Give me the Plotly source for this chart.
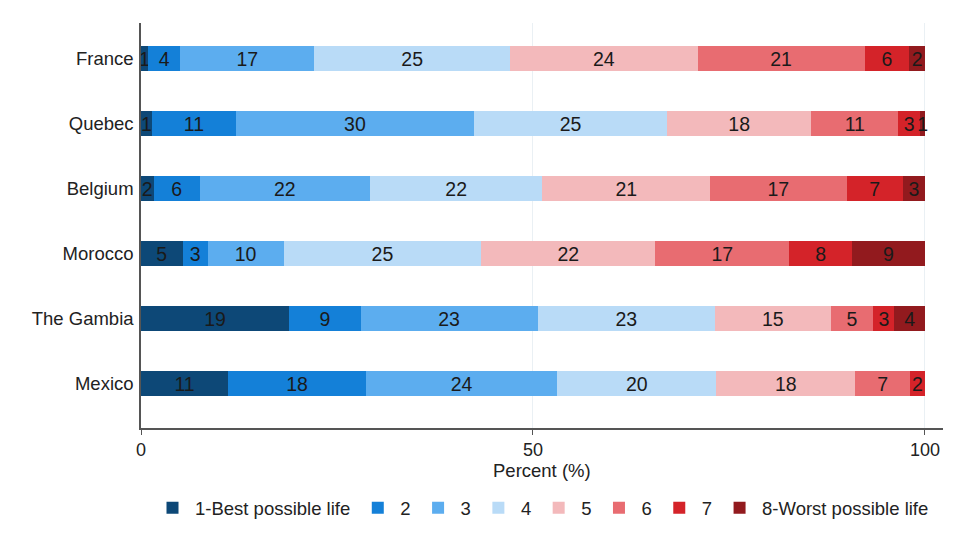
import plotly.graph_objects as go

countries = ["France", "Quebec", "Belgium", "Morocco", "The Gambia", "Mexico"]
levels = ["1-Best possible life", "2", "3", "4", "5", "6", "7", "8-Worst possible life"]

lvl1 = [0.9, 1.4, 1.6, 5.3, 18.9, 11.1]
lvl2 = [4.1, 10.7, 5.9, 3.2, 9.1, 17.6]
lvl3 = [17.1, 30.4, 21.7, 9.7, 22.6, 24.4]
lvl4 = [25.0, 24.6, 22.0, 25.2, 22.6, 20.3]
lvl5 = [23.9, 18.4, 21.4, 22.2, 14.8, 17.7]
lvl6 = [21.3, 11.1, 17.4, 17.1, 5.4, 7.0]
lvl7 = [5.7, 2.8, 7.2, 8.0, 2.7, 1.9]
lvl8 = [2.0, 0.6, 2.8, 9.3, 3.9, None]
series = [lvl1, lvl2, lvl3, lvl4, lvl5, lvl6, lvl7, lvl8]

colors = ["#0d4877", "#1480d8", "#5cadef", "#b9dbf7",
          "#f3b9bb", "#e86c71", "#d42329", "#921a1e"]

x_ticks = [0, 50, 100]
x_title = "Percent (%)"

FONT = "Liberation Sans, Arial, sans-serif"

fig = go.Figure()
for name, vals, col in zip(levels, series, colors):
    fig.add_trace(go.Bar(
        y=countries, x=vals, name=name, orientation="h",
        marker=dict(color=col, line=dict(width=0)),
        texttemplate="%{x:.0f}", textposition="inside", textangle=0,
        insidetextanchor="middle",
        textfont=dict(size=19.5, color="#1a1a1a", family=FONT),
        hoverinfo="skip",
    ))

fig.update_layout(
    barmode="stack",
    bargap=0.615,
    width=961, height=550,
    margin=dict(l=133, r=26, t=15, b=130),
    paper_bgcolor="white", plot_bgcolor="white",
    font=dict(family=FONT, size=18.5, color="#222222"),
    uniformtext=dict(minsize=19.5, mode="show"),
    showlegend=True,
    legend=dict(orientation="h", x=0.5, xanchor="center", y=-0.198, yanchor="middle",
                font=dict(size=18.5, color="#222222"), traceorder="normal",
                itemclick=False, itemwidth=35),
    xaxis=dict(range=[0, 102.3], tickvals=x_ticks, ticktext=[str(v) for v in x_ticks],
               showgrid=True, gridcolor="#eaf0f4", gridwidth=1,
               showline=True, linecolor="#555555", linewidth=1.5,
               ticks="outside", ticklen=5, tickcolor="#555555", tickwidth=1,
               zeroline=False,
               tickfont=dict(size=18, color="#222222")),
    yaxis=dict(categoryorder="array", categoryarray=countries[::-1],
               range=[-0.68, 5.55], showgrid=False,
               showline=True, linecolor="#555555", linewidth=1.5,
               ticks="", ticklabelstandoff=2,
               tickfont=dict(size=18.5, color="#222222")),
    annotations=[dict(text=x_title, xref="paper", yref="paper", x=0.5, y=-0.104,
                      xanchor="center", yanchor="middle", showarrow=False,
                      font=dict(size=18.5, color="#222222"))],
)

fig.write_html("out.html")
